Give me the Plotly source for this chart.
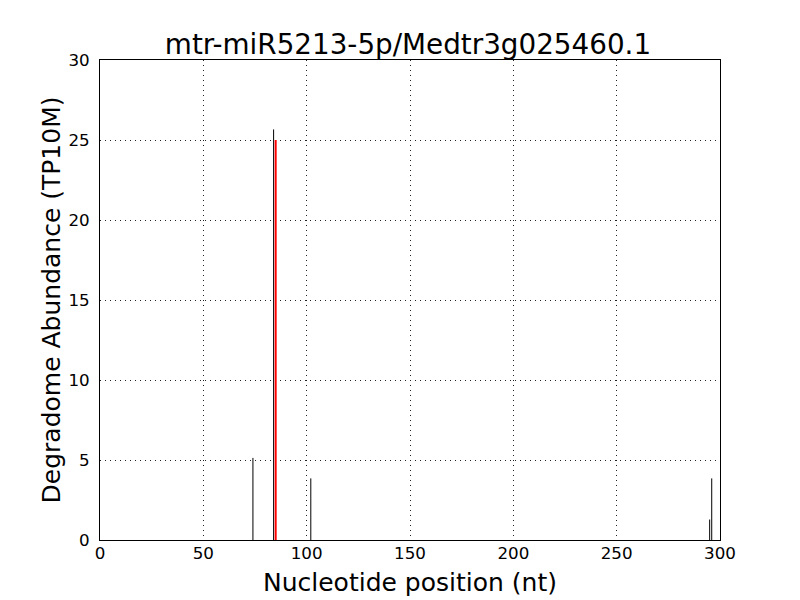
import plotly.graph_objects as go

positions = [74, 84, 102, 295, 296]
abundance = [5.13, 25.66, 3.85, 1.28, 3.85]
cleavage_pos = [85]
cleavage_val = [25.0]

def segs(xs, ys):
    X, Y = [], []
    for x, y in zip(xs, ys):
        X += [x, x, None]
        Y += [0, y, None]
    return X, Y

bx, by = segs(positions, abundance)
rx, ry = segs(cleavage_pos, cleavage_val)

fig = go.Figure()
fig.add_trace(go.Scatter(x=bx, y=by, mode="lines", line=dict(color="black", width=1), showlegend=False))
fig.add_trace(go.Scatter(x=rx, y=ry, mode="lines", line=dict(color="red", width=2), showlegend=False))

axis_common = dict(
    showline=True, linecolor="black", linewidth=1, mirror=True,
    showgrid=True, gridcolor="#222222", griddash="1px,4px", gridwidth=1,
    ticks="", zeroline=False, tickfont=dict(size=16.7, color="black"),
)
fig.update_xaxes(range=[0, 300], tickvals=[0, 50, 100, 150, 200, 250, 300],
                 ticklabelstandoff=-2,
                 title=dict(text="Nucleotide position (nt)", font=dict(size=25, color="black"), standoff=11),
                 **axis_common)
fig.update_yaxes(range=[0, 30], tickvals=[0, 5, 10, 15, 20, 25, 30],
                 ticklabelstandoff=6,
                 title=dict(text="Degradome Abundance (TP10M)", font=dict(size=25, color="black"), standoff=0),
                 **axis_common)
fig.update_layout(
    width=800, height=600,
    margin=dict(l=92, r=88, t=52, b=68),
    paper_bgcolor="white", plot_bgcolor="white",
    font=dict(family="DejaVu Sans", color="black"),
    title=dict(text="mtr-miR5213-5p/Medtr3g025460.1", x=0.5, xanchor="center", y=0.94, yanchor="middle",
               font=dict(size=27.8, color="black")),
)
fig.write_html("out.html")
